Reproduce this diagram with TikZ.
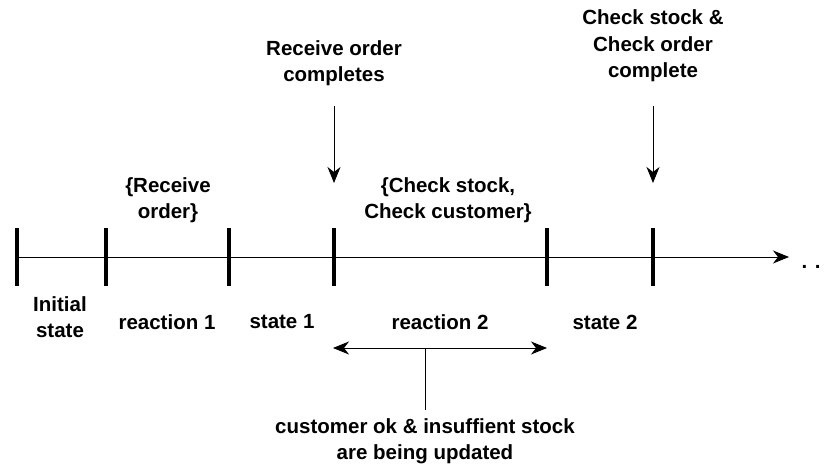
\documentclass[tikz,border=0pt]{standalone}
\usepackage{fontspec}
\setmainfont{Liberation Sans}
\usetikzlibrary{arrows.meta}
\begin{document}
\begin{tikzpicture}[x=1pt,y=-1pt,
  lbl/.style={font=\fontsize{20.5}{26.5}\selectfont\bfseries, align=center, inner sep=0pt},
  tick/.style={line width=3.5pt},
  axis/.style={line width=1pt},
  arr/.style={-{Stealth[length=16pt,width=13pt,inset=5pt]}, line width=0.9pt},
  darr/.style={{Stealth[length=16pt,width=13pt,inset=5pt]}-{Stealth[length=16pt,width=13pt,inset=5pt]}, line width=0.9pt}]
\useasboundingbox (0,0) rectangle (825,468);
% tick coordinates
\foreach \n/\x in {t0/17,t1/106,t2/229,t3/334,t4/547,t5/653}{
  \coordinate (\n top) at (\x,228);
  \coordinate (\n bot) at (\x,286);
}
\coordinate (start) at (17,257);
\coordinate (end) at (789,257);
\draw[arr] (start) -- (end);
\foreach \n in {t0,t1,t2,t3,t4,t5}{
  \draw[tick] (\n top) -- (\n bot);
}
\node[lbl, anchor=base] (dots) at (811,268) {. .};
% bottom labels
\node[lbl] (init) at (60,317) {Initial\\state};
\node[lbl] (r1) at (167,322) {reaction 1};
\node[lbl] (s1) at (282,322) {state 1};
\node[lbl] (r2) at (440,322) {reaction 2};
\node[lbl] (s2) at (605,322) {state 2};
% upper labels
\node[lbl] (ro) at (168,200) {\{Receive\\order\}};
\node[lbl] (cs) at (448,200) {\{Check stock,\\Check customer\}};
\node[lbl] (roc) at (334,63) {Receive order\\completes};
\node[lbl] (csc) at (653,46) {Check stock \&\\Check order\\complete};
\coordinate (a1s) at (334,106);
\coordinate (a1e) at (334,183);
\coordinate (a2s) at (653,106);
\coordinate (a2e) at (653,183);
\draw[arr] (a1s) -- (a1e);
\draw[arr] (a2s) -- (a2e);
% double arrow
\coordinate (dl) at (333,348);
\coordinate (dr) at (547,348);
\coordinate (dm) at (425,348);
\coordinate (db) at (425,410);
\draw[darr] (dl) -- (dr);
\draw[line width=0.9pt] (dm) -- (db);
\node[lbl] (cust) at (425,441) {customer ok \& insuffient stock\\are being updated};
\end{tikzpicture}
\end{document}
